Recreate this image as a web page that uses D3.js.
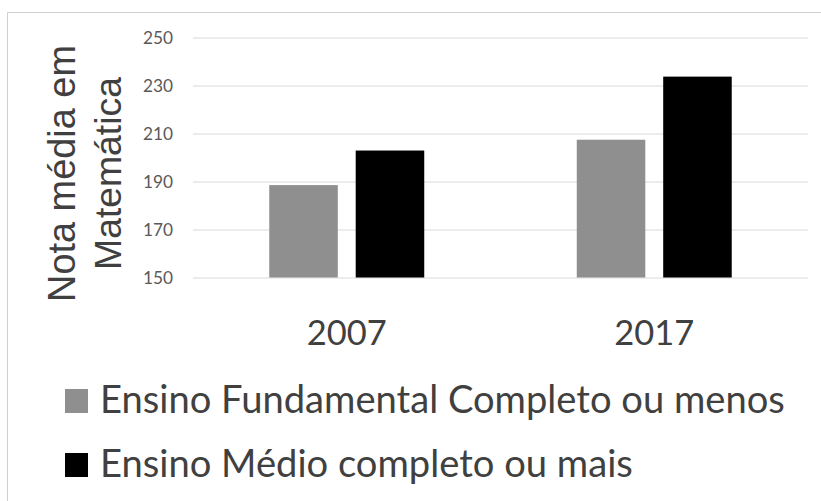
<!DOCTYPE html>
<html>
<head>
<meta charset="utf-8">
<script src="https://cdn.jsdelivr.net/npm/d3@7"></script>
<style>
  html, body { margin: 0; padding: 0; background: #fff; }
  svg { display: block; }
</style>
</head>
<body>
<svg id="chart" width="821" height="501"></svg>
<script>
const categories = ["2007", "2017"];
const seriesNames = ["Ensino Fundamental Completo ou menos", "Ensino Médio completo ou mais"];
const fundamental = [188.5, 207.4];
const medio = [202.9, 233.7];
const yTicks = [150, 170, 190, 210, 230, 250];
const yTitleLines = ["Nota média em", "Matemática"];
const colors = ["#8f8f8f", "#000000"];

const svg = d3.select("#chart");
const W = 821, H = 501;
const plot = { left: 193, right: 808, top: 37.5, bottom: 277.5 };

// fit a text element's font size so that its rendered width equals target
function fit(sel, target) {
  sel.style("font-size", "100px");
  const len = sel.node().getComputedTextLength();
  const size = 100 * target / len;
  sel.style("font-size", size + "px");
  return size;
}

// outer frame (top and left edges visible)
svg.append("line").attr("x1", 7.5).attr("x2", W).attr("y1", 12.5).attr("y2", 12.5)
  .attr("stroke", "#cfcfcf").attr("stroke-width", 1);
svg.append("line").attr("x1", 7.5).attr("x2", 7.5).attr("y1", 12.5).attr("y2", H)
  .attr("stroke", "#cfcfcf").attr("stroke-width", 1);

const y = d3.scaleLinear().domain([150, 250]).range([plot.bottom, plot.top]);
const x0 = d3.scaleBand().domain(categories).range([plot.left, plot.right])
  .paddingInner(0.496).paddingOuter(0.248);
const x1 = d3.scaleBand().domain(d3.range(seriesNames.length)).range([0, x0.bandwidth()])
  .paddingInner(0.207).paddingOuter(0);

// gridlines
const grid = d3.axisLeft(y).tickValues(yTicks).tickSize(-(plot.right - plot.left)).tickFormat("");
const gridG = svg.append("g").attr("transform", `translate(${plot.left},0)`).call(grid);
gridG.select(".domain").remove();
gridG.selectAll(".tick line").attr("stroke", "#d9d9d9").attr("stroke-width", 1.2);

// tick labels
const tickAxis = d3.axisLeft(y).tickValues(yTicks).tickSize(0).tickPadding(0).tickFormat(d3.format("d"));
const tickG = svg.append("g").attr("transform", `translate(173,0)`).call(tickAxis);
tickG.select(".domain").remove();
tickG.selectAll(".tick text")
  .attr("fill", "#595959")
  .style("font-family", "Lato, 'Open Sans', sans-serif");
const tickSize = fit(tickG.select(".tick:last-of-type text"), 30);
tickG.selectAll(".tick text").style("font-size", tickSize + "px");

// bars
const rows = categories.map((c, i) => ({ cat: c, vals: [fundamental[i], medio[i]] }));
const groups = svg.append("g").selectAll("g").data(rows).join("g")
  .attr("transform", d => `translate(${x0(d.cat)},0)`);
groups.selectAll("rect").data(d => d.vals.map((v, k) => ({ v, k }))).join("rect")
  .attr("x", d => x1(d.k))
  .attr("width", x1.bandwidth())
  .attr("y", d => y(d.v))
  .attr("height", d => y(150) - y(d.v))
  .attr("fill", d => colors[d.k]);

// x category labels
const xAxis = d3.axisBottom(x0).tickSize(0).tickPadding(0);
const xG = svg.append("g").attr("transform", `translate(0,0)`).call(xAxis);
xG.select(".domain").remove();
xG.selectAll(".tick text")
  .attr("y", 345).attr("dy", null)
  .attr("fill", "#404040")
  .style("font-family", "Lato, 'Open Sans', sans-serif");
const xSize = fit(xG.select(".tick text"), 80);
xG.selectAll(".tick text").style("font-size", xSize + "px");

// y axis title (two rotated lines)
const titleG = svg.append("g");
const titleBaselines = [75, 121];
const titleWidths = [257, 193];
let tSizes = [];
yTitleLines.forEach((t, i) => {
  const tx = titleG.append("text")
    .attr("transform", `translate(${titleBaselines[i]},173.5) rotate(-90)`)
    .attr("text-anchor", "middle")
    .attr("fill", "#404040")
    .style("font-family", "'Liberation Sans', Arial, sans-serif")
    .text(t);
  tSizes.push(fit(tx, titleWidths[i]));
});

// legend
const legendBaselines = [413, 477];
const legendWidths = [685, 533];
const legendG = svg.append("g");
seriesNames.forEach((name, i) => {
  legendG.append("rect")
    .attr("x", 65).attr("y", legendBaselines[i] - 24)
    .attr("width", 23).attr("height", 24)
    .attr("fill", colors[i]);
  const t = legendG.append("text")
    .attr("x", 100).attr("y", legendBaselines[i])
    .attr("fill", "#404040")
    .style("font-family", "Lato, 'Open Sans', sans-serif")
    .text(name);
  fit(t, legendWidths[i]);
});
</script>
</body>
</html>
